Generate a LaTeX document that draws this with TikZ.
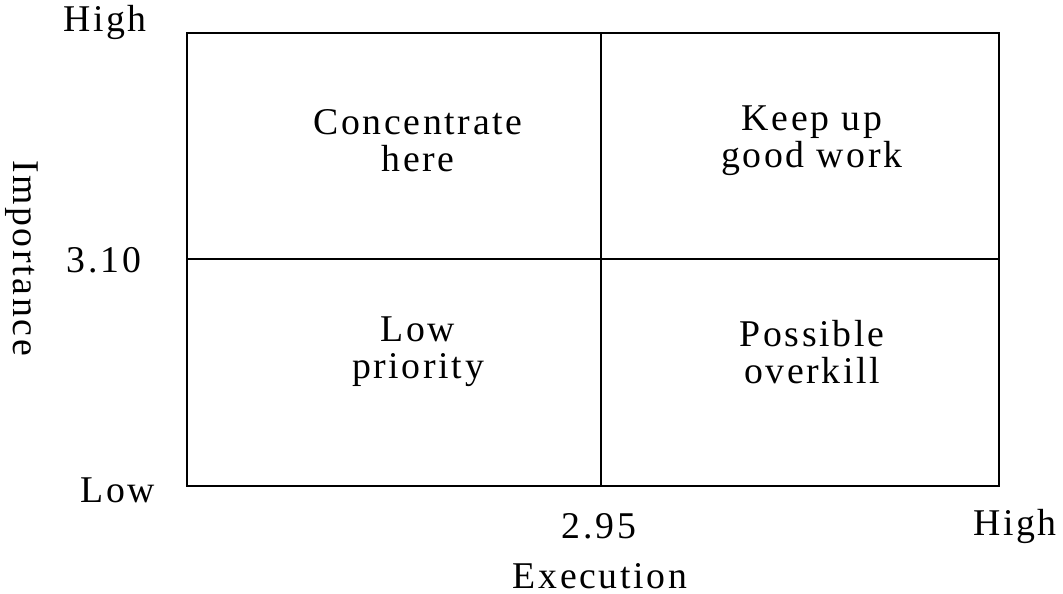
\documentclass[tikz,border=0pt]{standalone}
\usepackage{fontspec}
\setmainfont{Liberation Serif}[LetterSpace=7]
\begin{document}
\begin{tikzpicture}[x=0.02cm,y=-0.02cm,
  lbl/.style={inner sep=0pt,font=\fontsize{21.5}{21}\selectfont,align=center},
  frame/.style={line width=1.3pt}]
\useasboundingbox (0,0) rectangle (1063,594);
\coordinate (tl) at (187,33);
\coordinate (br) at (999,486);
\coordinate (mt) at (601,33);
\coordinate (mb) at (601,486);
\coordinate (ml) at (187,259);
\coordinate (mr) at (999,259);
\draw[frame] (tl) rectangle (br);
\draw[frame] (mt) -- (mb);
\draw[frame] (ml) -- (mr);
\node[lbl] (q1) at (418,141) {Concentrate\\here};
\node[lbl] (q2) at (812,141) {Keep up\\good work};
\node[lbl] (q3) at (418,352) {Low\\priority};
\node[lbl] (q4) at (812,352) {Possible\\overkill};
\node[lbl] (yhigh) at (105,22) {High};
\node[lbl] (ymid) at (104,260) {3.10};
\node[lbl] (ylow) at (118,490) {Low};
\node[lbl,rotate=-90] (ytitle) at (22,258) {Importance};
\node[lbl] (xmid) at (599,526) {2.95};
\node[lbl] (xhigh) at (1015,526) {High};
\node[lbl] (xtitle) at (600,576) {Execution};
\end{tikzpicture}
\end{document}
